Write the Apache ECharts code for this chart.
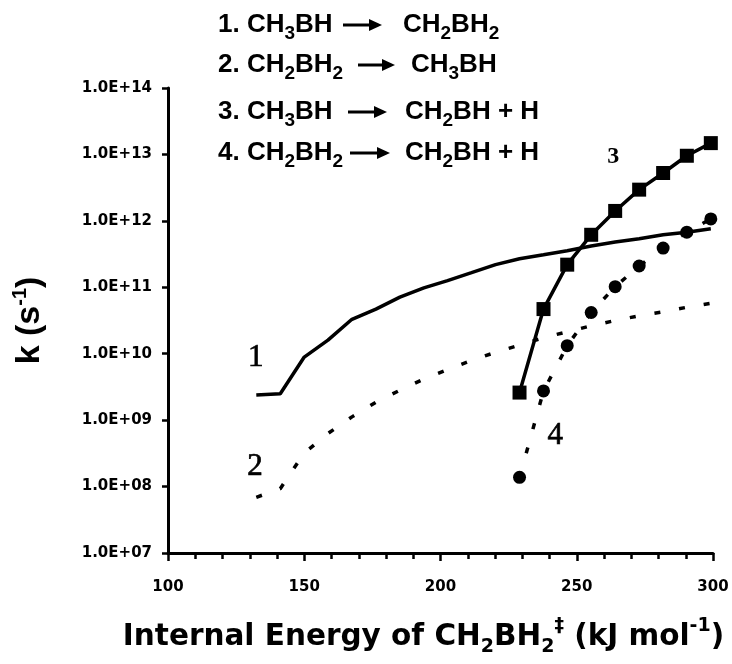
<!DOCTYPE html>
<html>
<head>
<meta charset="utf-8">
<script src="https://cdn.jsdelivr.net/npm/echarts@6/dist/echarts.min.js"></script>
<style>
  html, body { margin: 0; padding: 0; background: #fff; }
  #chart { width: 732px; height: 664px; }
</style>
</head>
<body>
<div id="chart"></div>
<script>
// Internal energy grid (kJ/mol) shared by all four rate curves
const energies = [132.4, 141.2, 150.0, 158.7, 167.5, 176.3, 185.1, 193.9, 202.6, 211.4,
                  220.2, 229.0, 237.8, 246.5, 255.3, 264.1, 272.9, 281.7, 290.4, 299.2];

// 1. CH3BH -> CH2BH2 (solid line)
const k1 = [2.4e9, 2.5e9, 8.9e9, 1.6e10, 3.3e10, 4.7e10, 7.1e10, 9.8e10, 1.26e11, 1.66e11,
            2.19e11, 2.69e11, 3.09e11, 3.55e11, 4.17e11, 4.79e11, 5.37e11, 6.17e11, 6.76e11, 7.59e11];

// 2. CH2BH2 -> CH3BH (dashed line)
const k2 = [6.9e7, 9.3e7, 3.2e8, 6.3e8, 1.12e9, 1.86e9, 2.82e9, 4.17e9, 5.75e9, 7.94e9,
            1.05e10, 1.35e10, 1.74e10, 2.14e10, 2.63e10, 3.16e10, 3.72e10, 4.27e10, 5.01e10, 5.75e10];

// 3. CH3BH -> CH2BH + H (squares), from 229 kJ/mol upward
const e34 = [229.0, 237.8, 246.5, 255.3, 264.1, 272.9, 281.7, 290.4, 299.2];
const k3 = [2.6e9, 4.7e10, 2.19e11, 6.17e11, 1.41e12, 2.95e12, 5.25e12, 9.55e12, 1.48e13];

// 4. CH2BH2 -> CH2BH + H (circles, dashed)
const k4 = [1.38e8, 2.75e9, 1.32e10, 4.17e10, 1.02e11, 2.09e11, 3.89e11, 6.76e11, 1.07e12];

// Curve number tags placed beside each curve
const tagNames = ['1', '2', '3', '4'];
const tagE = [132.2, 131.9, 263.4, 242.1];
const tagK = [8.7e9, 2.0e8, 9.1e12, 5.8e8];

// Y tick labels, one per decade
const yTickLabels = ['1.0E+07', '1.0E+08', '1.0E+09', '1.0E+10', '1.0E+11', '1.0E+12', '1.0E+13', '1.0E+14'];
const xTicks = [100, 150, 200, 250, 300];

// Reaction key at the top
const reactants = ['1. CH{s|3}BH', '2. CH{s|2}BH{s|2}', '3. CH{s|3}BH', '4. CH{s|2}BH{s|2}'];
const products = ['CH{s|2}BH{s|2}', 'CH{s|3}BH', 'CH{s|2}BH + H', 'CH{s|2}BH + H'];

const pairs = (xs, ys) => xs.map((x, i) => [x, ys[i]]);

const chart = echarts.init(document.getElementById('chart'), null, { renderer: 'canvas' });

const keyFont = { fontFamily: 'Liberation Sans', fontWeight: 'bold', fontSize: 26 };
const keyRich = { s: { fontFamily: 'Liberation Sans', fontWeight: 'bold', fontSize: 19, lineHeight: 14, verticalAlign: 'bottom' } };
const keyRows = [
  { y: 25, a1: 343, a2: 382, px: 403 },
  { y: 65, a1: 358, a2: 395, px: 411 },
  { y: 112, a1: 348, a2: 387, px: 405 },
  { y: 153, a1: 350, a2: 390, px: 405 }
];
const graphics = [];
keyRows.forEach((r, i) => {
  graphics.push({
    type: 'text', x: 218, y: r.y, silent: true,
    style: Object.assign({ text: reactants[i], fill: '#000', verticalAlign: 'middle', lineHeight: 36, rich: keyRich }, keyFont)
  });
  graphics.push({
    type: 'line', silent: true,
    shape: { x1: r.a1, y1: r.y, x2: r.a2 - 10, y2: r.y },
    style: { stroke: '#000', lineWidth: 3 }
  });
  graphics.push({
    type: 'polygon', silent: true,
    shape: { points: [[r.a2 - 13, r.y - 6], [r.a2, r.y], [r.a2 - 13, r.y + 6]] },
    style: { fill: '#000' }
  });
  graphics.push({
    type: 'text', x: r.px, y: r.y, silent: true,
    style: Object.assign({ text: products[i], fill: '#000', verticalAlign: 'middle', lineHeight: 36, rich: keyRich }, keyFont)
  });
});

const tickLabelStyle = { color: '#000', fontFamily: 'DejaVu Sans', fontWeight: 'bold', fontSize: 15 };

chart.setOption({
  animation: false,
  backgroundColor: '#fff',
  grid: { left: 168, right: 19, top: 88, bottom: 111, outerBoundsMode: 'none', containLabel: false },
  xAxis: {
    type: 'value', min: 100, max: 300, interval: 50,
    name: 'Internal Energy of CH{sub|2}BH{sub|2}{sup|‡} (kJ mol{sup|-1})',
    nameLocation: 'middle', nameGap: 64,
    nameTextStyle: {
      color: '#000', fontFamily: 'DejaVu Sans', fontWeight: 'bold', fontSize: 29.5, lineHeight: 40,
      padding: [0, 34, 0, 0],
      rich: {
        sub: { fontFamily: 'DejaVu Sans', fontWeight: 'bold', fontSize: 19, lineHeight: 16, verticalAlign: 'bottom' },
        sup: { fontFamily: 'DejaVu Sans', fontWeight: 'bold', fontSize: 19, lineHeight: 16, verticalAlign: 'top' }
      }
    },
    axisLine: { lineStyle: { color: '#000', width: 3 } },
    axisTick: { length: 8, lineStyle: { color: '#000', width: 2.5 } },
    minorTick: { show: true, splitNumber: 5, length: 6, lineStyle: { color: '#000', width: 2.5 } },
    splitLine: { show: false },
    axisLabel: Object.assign({ margin: 27, formatter: v => (xTicks.indexOf(v) >= 0 ? String(v) : '') }, tickLabelStyle)
  },
  yAxis: {
    type: 'log', logBase: 10, min: 1e7, max: 1e14, splitNumber: 7,
    name: 'k (s{sup|-1})',
    nameLocation: 'middle', nameRotate: 90, nameGap: 118,
    nameTextStyle: {
      color: '#000', fontFamily: 'Liberation Sans', fontWeight: 'bold', fontSize: 34, lineHeight: 40,
      rich: {
        sup: { fontFamily: 'Liberation Sans', fontWeight: 'bold', fontSize: 20, lineHeight: 18, verticalAlign: 'top' }
      }
    },
    axisLine: { lineStyle: { color: '#000', width: 3 } },
    axisTick: { length: 6, lineStyle: { color: '#000', width: 2.5 } },
    splitLine: { show: false },
    axisLabel: Object.assign({
      margin: 16,
      formatter: v => {
        const idx = Math.round(Math.log10(v)) - 7;
        return yTickLabels[idx] || '';
      }
    }, tickLabelStyle)
  },
  graphic: graphics,
  series: [
    {
      name: 'k1', type: 'line', data: pairs(energies, k1), symbol: 'none',
      lineStyle: { color: '#000', width: 3.5 }, z: 3
    },
    {
      name: 'k2', type: 'line', data: pairs(energies, k2), symbol: 'none',
      lineStyle: { color: '#000', width: 3.5, type: [6, 19] }, z: 3
    },
    {
      name: 'k3', type: 'line', data: pairs(e34, k3), symbol: 'rect', symbolSize: 14,
      itemStyle: { color: '#000' }, lineStyle: { color: '#000', width: 3.5 }, z: 4
    },
    {
      name: 'k4', type: 'line', data: pairs(e34, k4), symbol: 'circle', symbolSize: 13,
      itemStyle: { color: '#000' }, lineStyle: { color: '#000', width: 3.5, type: [6, 19] }, z: 4
    },
    {
      name: 'tags', type: 'scatter', symbolSize: 0, itemStyle: { color: '#000' }, silent: true,
      data: tagNames.map((n, i) => ({
        value: [tagE[i], tagK[i]], name: n,
        label: n === '3'
          ? { fontWeight: 'bold', fontSize: 24 }
          : { fontWeight: 'normal', fontSize: 31, textBorderColor: '#000', textBorderWidth: 0.7 }
      })),
      label: {
        show: true, position: 'inside', formatter: p => p.name,
        color: '#000', fontFamily: 'Liberation Serif', opacity: 1
      },
      z: 5
    }
  ]
});
</script>
</body>
</html>
